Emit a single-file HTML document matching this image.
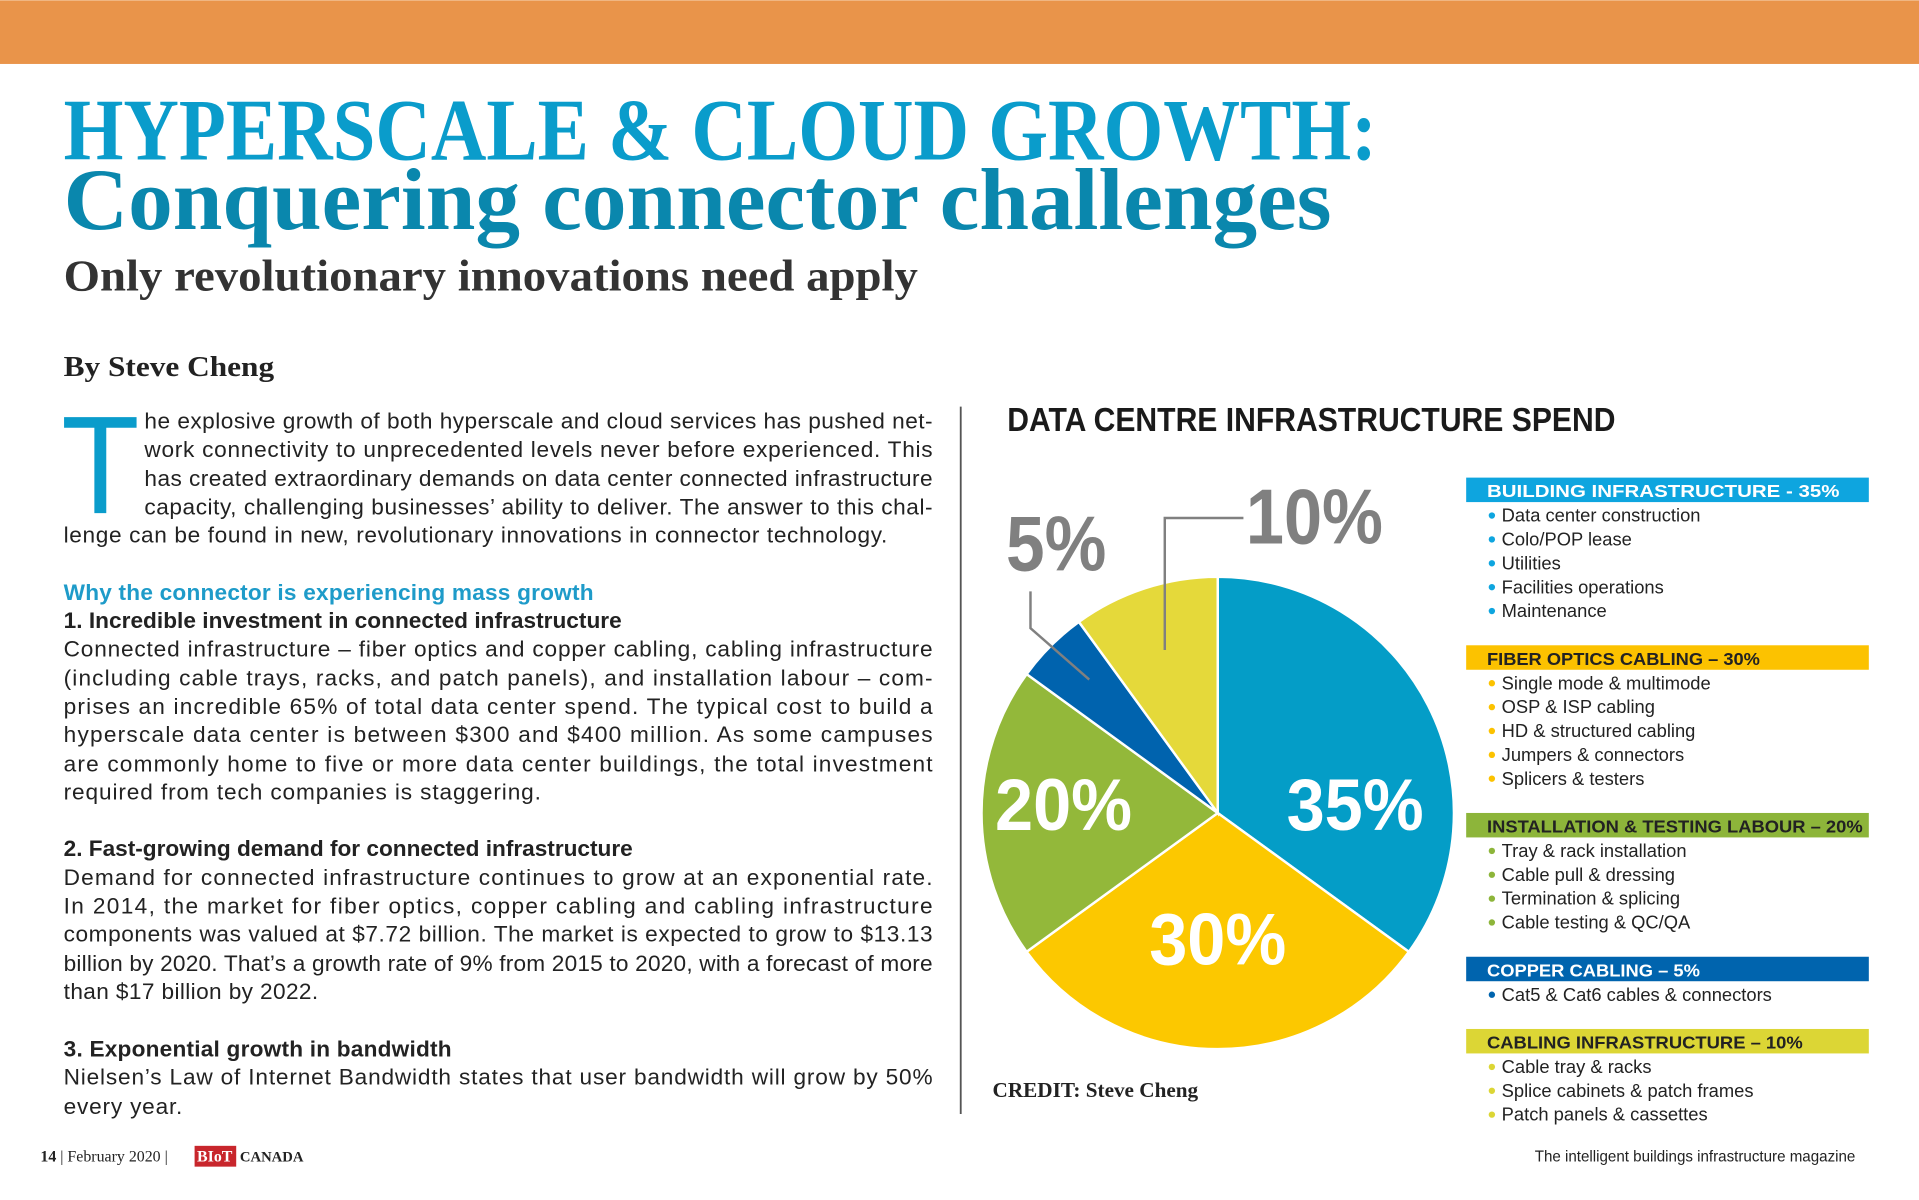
<!DOCTYPE html>
<html><head><meta charset="utf-8"><style>
html,body{margin:0;padding:0;background:#fff;width:1919px;height:1200px;overflow:hidden}
svg{display:block}
.b{font-family:"Liberation Sans",sans-serif;font-size:18.5px;fill:#222}
.h{font-family:"Liberation Sans",sans-serif;font-size:18.5px;font-weight:bold;fill:#222}
.leg{font-family:"Liberation Sans",sans-serif;font-size:15px;fill:#222}
.lh{font-family:"Liberation Sans",sans-serif;font-size:14.5px;font-weight:bold}
</style></head><body>
<svg id="page" width="1919" height="1200" viewBox="0 0 1568 980" xmlns="http://www.w3.org/2000/svg">
<rect x="0" y="0" width="1568" height="52" fill="#E9944A"/>
<text x="52" y="130" textLength="1073" lengthAdjust="spacingAndGlyphs" font-family="Liberation Serif,serif" font-weight="bold" font-size="72" fill="#0A9CCB">HYPERSCALE &amp; CLOUD GROWTH:</text>
<text x="52" y="187" textLength="1036" lengthAdjust="spacingAndGlyphs" font-family="Liberation Serif,serif" font-weight="bold" font-size="72" fill="#0A87AD">Conquering connector challenges</text>
<text x="52" y="237" textLength="698" lengthAdjust="spacingAndGlyphs" font-family="Liberation Serif,serif" font-weight="bold" font-size="36" fill="#333">Only revolutionary innovations need apply</text>
<text x="52" y="307" textLength="172" lengthAdjust="spacingAndGlyphs" font-family="Liberation Serif,serif" font-weight="bold" font-size="23" fill="#222">By Steve Cheng</text>

<text x="50" y="419" font-family="Liberation Sans,sans-serif" font-size="114" fill="#0A9CCB" textLength="64" lengthAdjust="spacingAndGlyphs">T</text>
<g>
<text class="b" x="118" y="350" textLength="644" lengthAdjust="spacing">he explosive growth of both hyperscale and cloud services has pushed net-</text>
<text class="b" x="118" y="373" textLength="644" lengthAdjust="spacing">work connectivity to unprecedented levels never before experienced. This</text>
<text class="b" x="118" y="397" textLength="644" lengthAdjust="spacing">has created extraordinary demands on data center connected infrastructure</text>
<text class="b" x="118" y="420" textLength="644" lengthAdjust="spacing">capacity, challenging businesses’ ability to deliver. The answer to this chal-</text>
<text class="b" x="52" y="443" textLength="673" lengthAdjust="spacing">lenge can be found in new, revolutionary innovations in connector technology.</text>
<text x="52" y="490" font-family="Liberation Sans,sans-serif" font-size="18.5" font-weight="bold" fill="#1E9BC9" textLength="433" lengthAdjust="spacing">Why the connector is experiencing mass growth</text>
<text class="h" x="52" y="513" textLength="456" lengthAdjust="spacing">1. Incredible investment in connected infrastructure</text>
<text class="b" x="52" y="536" textLength="710" lengthAdjust="spacing">Connected infrastructure – fiber optics and copper cabling, cabling infrastructure</text>
<text class="b" x="52" y="560" textLength="710" lengthAdjust="spacing">(including cable trays, racks, and patch panels), and installation labour – com-</text>
<text class="b" x="52" y="583" textLength="710" lengthAdjust="spacing">prises an incredible 65% of total data center spend.  The typical cost to build a</text>
<text class="b" x="52" y="606" textLength="710" lengthAdjust="spacing">hyperscale data center is between $300 and $400 million. As some campuses</text>
<text class="b" x="52" y="630" textLength="710" lengthAdjust="spacing">are commonly home to five or more data center buildings, the total investment</text>
<text class="b" x="52" y="653" textLength="390" lengthAdjust="spacing">required from tech companies is staggering.</text>
<text class="h" x="52" y="699" textLength="465" lengthAdjust="spacing">2. Fast-growing demand for connected infrastructure</text>
<text class="b" x="52" y="723" textLength="710" lengthAdjust="spacing">Demand for connected infrastructure continues to grow at an exponential rate.</text>
<text class="b" x="52" y="746" textLength="710" lengthAdjust="spacing">In 2014, the market for fiber optics, copper cabling and cabling infrastructure</text>
<text class="b" x="52" y="769" textLength="710" lengthAdjust="spacing">components was valued at $7.72 billion. The market is expected to grow to $13.13</text>
<text class="b" x="52" y="793" textLength="710" lengthAdjust="spacing">billion by 2020. That’s a growth rate of 9% from 2015 to 2020, with a forecast of more</text>
<text class="b" x="52" y="816" textLength="208" lengthAdjust="spacing">than $17 billion by 2022.</text>
<text class="h" x="52" y="863" textLength="317" lengthAdjust="spacing">3. Exponential growth in bandwidth</text>
<text class="b" x="52" y="886" textLength="710" lengthAdjust="spacing">Nielsen’s Law of Internet Bandwidth states that user bandwidth will grow by 50%</text>
<text class="b" x="52" y="910" textLength="97" lengthAdjust="spacing">every year.</text>
</g>
<line x1="785" y1="332" x2="785" y2="910" stroke="#555" stroke-width="1.5"/>

<text x="823" y="352" textLength="497" lengthAdjust="spacingAndGlyphs" font-family="Liberation Sans,sans-serif" font-weight="bold" font-size="27" fill="#1a1a1a">DATA CENTRE INFRASTRUCTURE SPEND</text>
<g id="pie"></g>
<g id="legend"></g>
<text x="811" y="896" textLength="168" lengthAdjust="spacingAndGlyphs" font-family="Liberation Serif,serif" font-weight="bold" font-size="17" fill="#222">CREDIT: Steve Cheng</text>

<g>
<text x="33" y="949" font-family="Liberation Serif,serif" font-size="13" fill="#222"><tspan font-weight="bold">14</tspan> | February 2020 |</text>
<rect x="159" y="936" width="34" height="17" fill="#C8262C"/>
<text x="161" y="949" font-family="Liberation Serif,serif" font-size="13" font-weight="bold" fill="#fff">BIoT</text>
<text x="196" y="949" font-family="Liberation Serif,serif" font-size="12" font-weight="bold" fill="#222">CANADA</text>
<text x="1254" y="949" textLength="262" lengthAdjust="spacingAndGlyphs" font-family="Liberation Sans,sans-serif" font-size="12.5" fill="#222">The intelligent buildings infrastructure magazine</text>
</g>
</svg>
<script>
const categories = ["Building infrastructure", "Fiber optics cabling", "Installation & testing labour", "Copper cabling", "Cabling infrastructure"];
const values = [35, 30, 20, 5, 10];
const sliceColors = ["#049DC7", "#FCC800", "#93B83A", "#0063AE", "#E5D93A"];
const legendTitles = ["BUILDING INFRASTRUCTURE - 35%", "FIBER OPTICS CABLING – 30%", "INSTALLATION & TESTING LABOUR – 20%", "COPPER CABLING – 5%", "CABLING INFRASTRUCTURE – 10%"];
const legendItems = [
 ["Data center construction","Colo/POP lease","Utilities","Facilities operations","Maintenance"],
 ["Single mode & multimode","OSP & ISP cabling","HD & structured cabling","Jumpers & connectors","Splicers & testers"],
 ["Tray & rack installation","Cable pull & dressing","Termination & splicing","Cable testing & QC/QA"],
 ["Cat5 & Cat6 cables & connectors"],
 ["Cable tray & racks","Splice cabinets & patch frames","Patch panels & cassettes"]
];
const NS="http://www.w3.org/2000/svg";
const cx=995, cy=664, R=193;
const total=values.reduce((a,b)=>a+b,0);
function ang(v){return v/total*2*Math.PI;}
function pt(a,r){return [cx+Math.sin(a)*r, cy-Math.cos(a)*r];}
const pie=document.getElementById('pie');
let start=0;
values.forEach((v,i)=>{
  const end=start+ang(v);
  const p0=pt(start,R), p1=pt(end,R);
  const large=(end-start)>Math.PI?1:0;
  const path=document.createElementNS(NS,'path');
  path.setAttribute('d',`M${cx},${cy} L${p0[0]},${p0[1]} A${R},${R} 0 ${large} 1 ${p1[0]},${p1[1]} Z`);
  path.setAttribute('fill',sliceColors[i]);
  path.setAttribute('stroke','#fff');
  path.setAttribute('stroke-width','2');
  
  
  pie.appendChild(path);
  const mid=(start+end)/2;
  const t=document.createElementNS(NS,'text');
  t.setAttribute('font-family','Liberation Sans, sans-serif');
  t.setAttribute('font-weight','bold');
  if(v>=15){
    const c=Math.cos(mid);
    const x=cx+Math.sin(mid)*126;
    const y=cy+(c<0?1:-1)*Math.max(0,Math.abs(c)-0.5)*2*110;
    t.setAttribute('x',x); t.setAttribute('y',y+14);
    t.setAttribute('text-anchor','middle');
    t.setAttribute('font-size','60');
    t.setAttribute('fill','#fff');
    t.setAttribute('textLength','112');
    t.setAttribute('lengthAdjust','spacingAndGlyphs');
    t.textContent=v+'%';
    
    
    pie.appendChild(t);
  } else {
    const a=pt(mid,140);
    const line=document.createElementNS(NS,'polyline');
    let pts, lx, ly, tl;
    if(Math.sin(mid)<-0.5){
      pts=`${a[0]-6},${a[1]-10} 842,513 842,483`; lx=822; ly=466; tl=82;
    } else {
      pts=`${a[0]},${a[1]} ${a[0]},423 1016,423`; lx=1018; ly=444; tl=112;
    }
    line.setAttribute('points',pts);
    line.setAttribute('fill','none');
    line.setAttribute('stroke','#808080');
    line.setAttribute('stroke-width','2');
    
    
    pie.appendChild(line);
    t.setAttribute('x',lx); t.setAttribute('y',ly);
    t.setAttribute('font-size','64');
    t.setAttribute('fill','#808080');
    t.setAttribute('textLength',tl);
    t.setAttribute('lengthAdjust','spacingAndGlyphs');
    t.textContent=v+'%';
    
    
    pie.appendChild(t);
  }
  start=end;
});
const legend=document.getElementById('legend');
const headerColors=["#0EA5DF","#FCC200","#8DB53A","#0064AE","#DCD635"];
const headerTextColors=["#fff","#222","#222","#fff","#222"];
const headerWidths=[288,223,307,174,258];
let y=390;
legendTitles.forEach((title,i)=>{
  const r=document.createElementNS(NS,'rect');
  r.setAttribute('x',1198); r.setAttribute('y',y); r.setAttribute('width',329); r.setAttribute('height',20);
  r.setAttribute('fill',headerColors[i]);
  
  
  legend.appendChild(r);
  const t=document.createElementNS(NS,'text');
  t.setAttribute('x',1215); t.setAttribute('y',y+16);
  t.setAttribute('class','lh');
  t.setAttribute('fill',headerTextColors[i]);
  t.setAttribute('textLength',headerWidths[i]);
  t.setAttribute('lengthAdjust','spacingAndGlyphs');
  t.textContent=title;
  
  
  legend.appendChild(t);
  let iy=y+36;
  legendItems[i].forEach(item=>{
    const d=document.createElementNS(NS,'circle');
    d.setAttribute('cx',1219); d.setAttribute('cy',iy-5); d.setAttribute('r',2.6);
    d.setAttribute('fill',headerColors[i]);
    
    
    legend.appendChild(d);
    const it=document.createElementNS(NS,'text');
    it.setAttribute('x',1227); it.setAttribute('y',iy);
    it.setAttribute('class','leg');
    it.textContent=item;
    
    
    legend.appendChild(it);
    iy+=19.5;
  });
  y=iy+3.5;
});
</script>
</body></html>
